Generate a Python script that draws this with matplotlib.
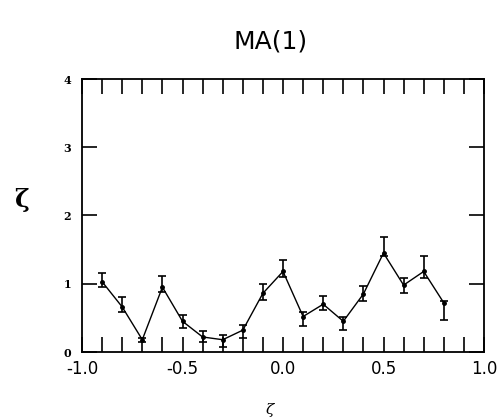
import numpy as np
import matplotlib
matplotlib.use("Agg")
import matplotlib.pyplot as plt

# data
x_vals = [-0.9, -0.8, -0.7, -0.6, -0.5, -0.4, -0.3, -0.2, -0.1, 0.0,
          0.1, 0.2, 0.3, 0.4, 0.5, 0.6, 0.7, 0.8]
y_vals = [1.03, 0.66, 0.18, 0.95, 0.45, 0.22, 0.18, 0.32, 0.86, 1.18,
          0.52, 0.70, 0.45, 0.85, 1.45, 0.98, 1.18, 0.72]
err_low = [0.08, 0.07, 0.03, 0.07, 0.10, 0.07, 0.10, 0.12, 0.10, 0.08,
           0.14, 0.08, 0.13, 0.11, 0.05, 0.12, 0.09, 0.25]
err_high = [0.13, 0.15, 0.03, 0.16, 0.09, 0.09, 0.07, 0.08, 0.14, 0.17,
            0.07, 0.12, 0.06, 0.11, 0.23, 0.10, 0.23, 0.03]
x_tick_vals = [-1.0, -0.5, 0.0, 0.5, 1.0]
x_tick_labels = ["-1.0", "-0.5", "0.0", "0.5", "1.0"]
y_tick_vals = [0, 1, 2, 3, 4]
y_tick_labels = ["0", "1", "2", "3", "4"]

fig = plt.figure(figsize=(4.99, 4.19), dpi=100)
ax = fig.add_axes([82/499, 1-352/419, 402/499, 273/419])

ax.errorbar(x_vals, y_vals, yerr=[err_low, err_high], color="black",
            lw=1.0, elinewidth=1.2, capsize=3, capthick=1.2,
            marker="o", ms=2.5, mfc="black", mec="black")

ax.set_xlim(-1.0, 1.0)
ax.set_ylim(0, 4)

minor = [v for v in np.round(np.arange(-0.9, 0.95, 0.1), 2) if abs(v * 2 - round(v * 2)) > 1e-6]
ax.set_xticks(minor, minor=True)
ax.set_xticks(x_tick_vals)
ax.set_xticklabels(x_tick_labels, fontsize=12, family="DejaVu Sans")
ax.tick_params(axis="x", which="both", direction="in", length=11, width=1.2,
               top=True, pad=6)
ax.set_yticks(y_tick_vals)
ax.set_yticklabels(y_tick_labels, fontsize=8, family="DejaVu Serif", fontweight="bold")
ax.tick_params(axis="y", direction="in", length=11, width=1.2, right=True, pad=8)

for s in ax.spines.values():
    s.set_linewidth(1.3)

fig.text(271/499, 1-42/419, "MA(1)", fontsize=18, ha="center", va="center",
         family="DejaVu Sans")
fig.text(22/499, 1-200/419, "ζ", fontsize=18, ha="center", va="center",
         family="DejaVu Serif", fontweight="bold")
fig.text(270/499, 1-410/419, "ζ", fontsize=11, ha="center", va="center",
         family="DejaVu Serif", style="italic")

fig.savefig("out.png", dpi=100)
